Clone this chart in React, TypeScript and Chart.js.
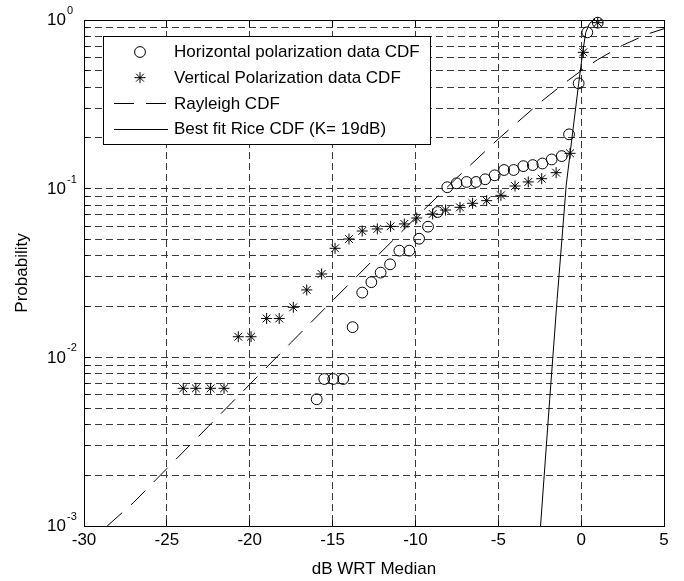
import React, { useEffect, useRef } from 'react';
import { Chart, registerables } from 'chart.js';

Chart.register(...registerables);

// ---------- data ----------
const horizX = [-15.96, -15.5, -14.96, -14.36, -13.79, -13.21, -12.66, -12.1, -11.53, -10.97, -10.37, -9.78, -9.24, -8.66, -8.08, -7.52, -6.91, -6.34, -5.79, -5.22, -4.65, -4.07, -3.49, -2.92, -2.34, -1.78, -1.17, -0.73, -0.15, 0.37, 1.0];
const horizY = [0.00564, 0.00744, 0.00744, 0.00744, 0.0151, 0.0242, 0.0279, 0.0318, 0.0356, 0.0429, 0.0429, 0.0505, 0.0595, 0.0727, 0.102, 0.1076, 0.1096, 0.1096, 0.1137, 0.12, 0.129, 0.129, 0.136, 0.138, 0.141, 0.149, 0.156, 0.21, 0.421, 0.845, 0.964];

const vertX = [-24.01, -23.25, -22.36, -21.55, -20.69, -19.92, -18.98, -18.22, -17.37, -16.56, -15.66, -14.85, -14.01, -13.21, -12.3, -11.5, -10.67, -9.92, -8.96, -8.18, -7.31, -6.55, -5.7, -4.84, -3.99, -3.19, -2.38, -1.51, -0.67, 0.13, 1.0];
const vertY = [0.00655, 0.00655, 0.00655, 0.00655, 0.01325, 0.01325, 0.017, 0.017, 0.0198, 0.0251, 0.0312, 0.0443, 0.0503, 0.0561, 0.0577, 0.0598, 0.0618, 0.067, 0.0708, 0.0747, 0.0775, 0.0819, 0.0849, 0.0913, 0.1037, 0.1096, 0.1146, 0.1244, 0.162, 0.643, 0.964];

const rayleighX = [-28.6, -27, -25, -22.5, -20, -17.5, -15, -12.5, -10, -7.5, -5, -2.5, -1, 0, 1, 2.5, 4, 5];
const rayleighY = [0.001, 0.00138, 0.00219, 0.00389, 0.00691, 0.01225, 0.0217, 0.0382, 0.067, 0.116, 0.197, 0.323, 0.423, 0.5, 0.582, 0.708, 0.825, 0.888];

const riceX = [-2.45, -1.9, -1.45, -0.9, -0.5, -0.15, 0.1, 0.28, 0.5, 0.75];
const riceY = [0.001, 0.0056, 0.022, 0.105, 0.22, 0.42, 0.65, 0.845, 0.95, 1.0];

const seriesLabels = [
  'Horizontal polarization data CDF',
  'Vertical Polarization data CDF',
  'Rayleigh CDF',
  'Best fit Rice CDF (K= 19dB)',
];

const xMin = -30;
const xMax = 5;
const xStep = 5;
const xTitle = 'dB WRT Median';
const yTitle = 'Probability';
const yDecades = [0.001, 0.01, 0.1, 1];
const yDecadeExponents = ['-3', '-2', '-1', '0'];
const yMinorMultipliers = [2, 3, 4, 5, 6, 7, 8, 9];

const FONT = '"Liberation Sans", Arial, Helvetica, sans-serif';

const yTickValues: number[] = [];
yDecades.forEach((d, i) => {
  yTickValues.push(d);
  if (i < yDecades.length - 1) yMinorMultipliers.forEach((m) => yTickValues.push(+(d * m).toPrecision(6)));
});

const toPoints = (xs: number[], ys: number[]) => xs.map((x, i) => ({ x, y: ys[i] }));

const al = (v: number) => Math.round(v - 0.5) + 0.5;

function drawStar(ctx: CanvasRenderingContext2D, x: number, y: number, r: number) {
  ctx.beginPath();
  ctx.moveTo(x - r, y); ctx.lineTo(x + r, y);
  ctx.moveTo(x, y - r); ctx.lineTo(x, y + r);
  const d = r * Math.SQRT1_2;
  ctx.moveTo(x - d, y - d); ctx.lineTo(x + d, y + d);
  ctx.moveTo(x - d, y + d); ctx.lineTo(x + d, y - d);
  ctx.stroke();
}

const framePlugin = {
  id: 'matlabFrame',
  afterDraw(chart: any) {
    const { ctx, chartArea: a, scales } = chart;
    const xs = scales.x;
    const ys = scales.y;
    ctx.save();
    ctx.setLineDash([]);
    ctx.strokeStyle = '#000';
    ctx.lineWidth = 1;
    const L = al(a.left), R = al(a.right), T = al(a.top), B = al(a.bottom);
    // axes box
    ctx.strokeRect(L, T, R - L, B - T);
    // inward ticks
    ctx.beginPath();
    xs.ticks.forEach((t: any) => {
      const px = al(xs.getPixelForValue(t.value));
      ctx.moveTo(px, B); ctx.lineTo(px, B - 6);
      ctx.moveTo(px, T); ctx.lineTo(px, T + 6);
    });
    yTickValues.forEach((v) => {
      const py = al(ys.getPixelForValue(v));
      const len = yDecades.includes(v) ? 6 : 4;
      ctx.moveTo(L, py); ctx.lineTo(L + len, py);
      ctx.moveTo(R, py); ctx.lineTo(R - len, py);
    });
    ctx.stroke();

    // y tick labels 10^n
    ctx.fillStyle = '#000';
    yDecades.forEach((v, i) => {
      const py = ys.getPixelForValue(v);
      ctx.font = `17px ${FONT}`;
      ctx.textAlign = 'right';
      ctx.textBaseline = 'middle';
      ctx.fillText('10', a.left - 18, py + 0.5);
      ctx.font = `11px ${FONT}`;
      ctx.textAlign = 'left';
      ctx.fillText(yDecadeExponents[i], a.left - 17, py - 9);
    });

    // legend box
    const dsets = chart.data.datasets;
    ctx.font = `17px ${FONT}`;
    let maxW = 0;
    dsets.forEach((d: any) => { maxW = Math.max(maxW, ctx.measureText(d.label).width); });
    const boxL = a.left + 19;
    const boxT = a.top + 16;
    const boxW = Math.round(71 + maxW + 10);
    const boxH = 108;
    ctx.fillStyle = '#fff';
    ctx.fillRect(boxL, boxT, boxW, boxH);
    ctx.strokeStyle = '#000';
    ctx.strokeRect(al(boxL), al(boxT), boxW, boxH);
    const rowH = 25.67;
    dsets.forEach((d: any, i: number) => {
      const cy = boxT + 16 + i * rowH;
      ctx.strokeStyle = '#000';
      ctx.lineWidth = 1;
      if (d.showLine) {
        ctx.setLineDash(d.borderDash || []);
        ctx.beginPath();
        ctx.moveTo(boxL + 11, Math.round(cy) + 0.5);
        ctx.lineTo(boxL + 65, Math.round(cy) + 0.5);
        ctx.stroke();
        ctx.setLineDash([]);
      } else if (d.pointStyle === 'star') {
        drawStar(ctx, boxL + 37, cy, d.pointRadius);
      } else {
        ctx.beginPath();
        ctx.arc(boxL + 37, cy, d.pointRadius, 0, Math.PI * 2);
        ctx.stroke();
      }
      ctx.fillStyle = '#000';
      ctx.font = `17px ${FONT}`;
      ctx.textAlign = 'left';
      ctx.textBaseline = 'middle';
      ctx.fillText(d.label, boxL + 71, cy + 0.5);
    });
    ctx.restore();
  },
};

export default function App() {
  const ref = useRef<HTMLCanvasElement | null>(null);
  useEffect(() => {
    if (!ref.current) return;
    Chart.defaults.font.family = FONT;
    Chart.defaults.color = '#000';
    const gridColor = '#3a3a3a';
    const chart = new Chart(ref.current, {
      type: 'scatter',
      data: {
        datasets: [
          {
            label: seriesLabels[0],
            data: toPoints(horizX, horizY),
            showLine: false,
            clip: false,
            pointStyle: 'circle',
            pointRadius: 5.4,
            pointBorderWidth: 1,
            borderColor: '#000',
            backgroundColor: 'rgba(0,0,0,0)',
          },
          {
            label: seriesLabels[1],
            data: toPoints(vertX, vertY),
            showLine: false,
            clip: false,
            pointStyle: 'star',
            pointRadius: 5.5,
            pointBorderWidth: 1,
            borderColor: '#000',
            backgroundColor: 'rgba(0,0,0,0)',
          },
          {
            label: seriesLabels[2],
            data: toPoints(rayleighX, rayleighY),
            showLine: true,
            pointRadius: 0,
            borderWidth: 1,
            borderColor: '#000',
            borderDash: [20, 12],
            backgroundColor: 'rgba(0,0,0,0)',
          },
          {
            label: seriesLabels[3],
            data: toPoints(riceX, riceY),
            showLine: true,
            pointRadius: 0,
            borderWidth: 1,
            borderColor: '#000',
            backgroundColor: 'rgba(0,0,0,0)',
          },
        ] as any,
      },
      options: {
        animation: false,
        responsive: false,
        devicePixelRatio: 1,
        layout: { padding: { left: 0, top: 20, right: 20, bottom: 0 } },
        plugins: { legend: { display: false }, tooltip: { enabled: false } },
        scales: {
          x: {
            type: 'linear',
            min: xMin,
            max: xMax,
            ticks: { stepSize: xStep, color: '#000', font: { size: 17 }, padding: 4, maxRotation: 0 },
            grid: { color: gridColor, lineWidth: 1, drawTicks: false },
            border: { display: false, dash: [7, 4] },
            title: { display: true, text: xTitle, color: '#000', font: { size: 17 }, padding: { top: 0, bottom: 1 } },
            afterFit: (s: any) => { s.height = 55; },
          },
          y: {
            type: 'logarithmic',
            min: yDecades[0],
            max: yDecades[yDecades.length - 1],
            afterBuildTicks: (s: any) => { s.ticks = yTickValues.map((v) => ({ value: v })); },
            ticks: { display: false },
            grid: { color: gridColor, lineWidth: 1, drawTicks: false },
            border: { display: false, dash: [7, 4] },
            title: { display: true, text: yTitle, color: '#000', font: { size: 17 }, padding: { top: 12, bottom: 0 } },
            afterFit: (s: any) => { s.width = 84; },
          },
        },
      } as any,
      plugins: [framePlugin],
    });
    return () => chart.destroy();
  }, []);
  return (
    <div style={{ position: 'fixed', left: 0, top: 0, width: 684, height: 581, background: '#fff' }}>
      <canvas ref={ref} width={684} height={581} style={{ display: 'block', width: 684, height: 581 }} />
    </div>
  );
}
